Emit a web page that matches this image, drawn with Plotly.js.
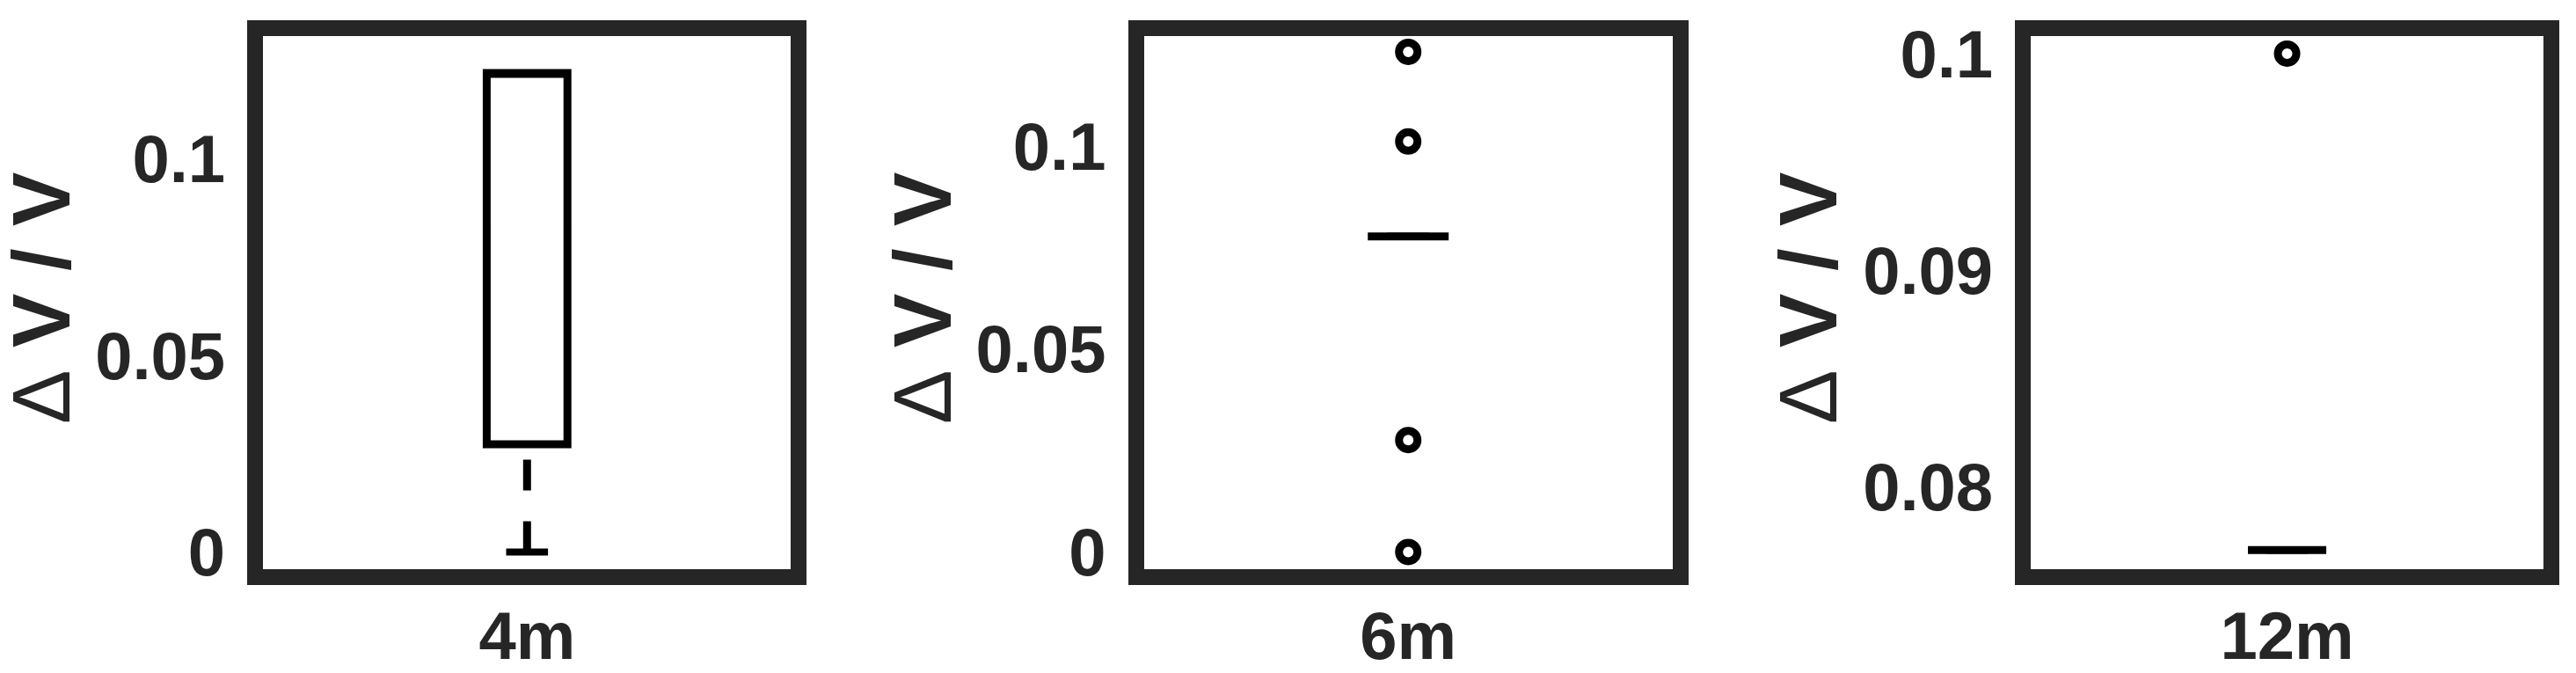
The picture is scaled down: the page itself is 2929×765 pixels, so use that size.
<!DOCTYPE html>
<html>
<head>
<meta charset="utf-8">
<script src="https://cdn.plot.ly/plotly-3.0.1.min.js"></script>
<style>
  html, body { margin: 0; padding: 0; background: #fff; }
  #chart { width: 2929px; height: 765px; }
</style>
</head>
<body>
<div id="chart"></div>
<script>
// groups (one box per panel)
const groups = ['4m', '6m', '12m'];

// box statistics
const q1Vals = [0.0274, 0.0778, 0.0771];
const medianVals = [0.1219, 0.0778, 0.0771];
const q3Vals = [0.1219, 0.0778, 0.0771];
const lowerWhisker = [0, 0.0778, 0.0771];
const upperWhisker = [0.1219, 0.0778, 0.0771];

// outliers for each group
const outliers = [
  [],
  [0.1233, 0.1012, 0.0276, 0],
  [0.1]
];

// y tick values per panel
const yTicks = [
  [0, 0.05, 0.1],
  [0, 0.05, 0.1],
  [0.08, 0.09, 0.1]
];

const yTitle = '<span style="font-weight:normal">\u0394</span> V / V';

const axisColor = '#262626';
const fontFam = '"Liberation Sans", Arial, sans-serif';

const xDomains = [[0.10219, 0.30703], [0.44408, 0.64927], [0.78843, 0.98727]];
const yDomain = [0.15386, 0.94641];
const yRanges = [[-0.00446, 0.13133], [-0.00432, 0.1272], [0.07620, 0.10081]];
const titleX = [0.01605, 0.35814, 0.70195];

let traces = [];
let layout = {
  width: 2929,
  height: 765,
  margin: {l: 0, r: 0, t: 0, b: 0},
  paper_bgcolor: '#fff',
  plot_bgcolor: '#fff',
  showlegend: false,
  font: {family: fontFam, size: 76, color: axisColor, weight: 'bold'},
  annotations: []
};

for (let i = 0; i < groups.length; i++) {
  let xa = i === 0 ? 'x' : 'x' + (i + 1);
  let ya = i === 0 ? 'y' : 'y' + (i + 1);

  // box + median
  traces.push({
    type: 'box',
    x: [groups[i]],
    q1: [q1Vals[i]],
    median: [medianVals[i]],
    q3: [q3Vals[i]],
    lowerfence: [q1Vals[i]],
    upperfence: [q3Vals[i]],
    width: 0.153,
    whiskerwidth: 0,
    boxpoints: false,
    fillcolor: 'rgba(0,0,0,0)',
    line: {color: '#000', width: 9},
    hoverinfo: 'skip',
    xaxis: xa, yaxis: ya
  });

  // dashed whiskers
  traces.push({
    type: 'scatter', mode: 'lines',
    x: [groups[i], groups[i]],
    y: [lowerWhisker[i], q1Vals[i]],
    line: {color: '#000', width: 9, dash: '35px,35px'},
    hoverinfo: 'skip',
    xaxis: xa, yaxis: ya
  });
  traces.push({
    type: 'scatter', mode: 'lines',
    x: [groups[i], groups[i]],
    y: [upperWhisker[i], q3Vals[i]],
    line: {color: '#000', width: 9, dash: '35px,35px'},
    hoverinfo: 'skip',
    xaxis: xa, yaxis: ya
  });

  // whisker caps
  traces.push({
    type: 'scatter', mode: 'markers',
    x: [groups[i], groups[i]],
    y: [lowerWhisker[i], upperWhisker[i]],
    marker: {symbol: 'line-ew', size: 34, color: '#000', line: {color: '#000', width: 8}},
    hoverinfo: 'skip',
    xaxis: xa, yaxis: ya
  });

  // outliers
  traces.push({
    type: 'scatter', mode: 'markers',
    x: outliers[i].map(() => groups[i]),
    y: outliers[i],
    marker: {symbol: 'circle-open', size: 21, color: '#000', line: {color: '#000', width: 9}},
    hoverinfo: 'skip',
    xaxis: xa, yaxis: ya
  });

  let xKey = i === 0 ? 'xaxis' : 'xaxis' + (i + 1);
  let yKey = i === 0 ? 'yaxis' : 'yaxis' + (i + 1);

  layout[xKey] = {
    domain: xDomains[i],
    anchor: ya,
    type: 'category',
    range: [-0.5, 0.5],
    showgrid: false,
    zeroline: false,
    showline: true,
    mirror: true,
    linecolor: axisColor,
    linewidth: 18,
    ticks: '',
    ticklabelstandoff: -7,
    tickfont: {family: fontFam, size: 76, color: axisColor, weight: 'bold'},
    fixedrange: true
  };
  layout[yKey] = {
    domain: yDomain,
    anchor: xa,
    range: yRanges[i],
    tickvals: yTicks[i],
    showgrid: false,
    zeroline: false,
    showline: true,
    mirror: true,
    linecolor: axisColor,
    linewidth: 18,
    ticks: '',
    ticklabelstandoff: 10,
    tickfont: {family: fontFam, size: 76, color: axisColor, weight: 'bold'},
    fixedrange: true
  };

  layout.annotations.push({
    text: yTitle,
    xref: 'paper', yref: 'paper',
    x: titleX[i], y: 0.5569,
    xanchor: 'center', yanchor: 'middle',
    textangle: -90,
    showarrow: false,
    font: {family: fontFam, size: 92, color: axisColor, weight: 'bold'}
  });
}

Plotly.newPlot('chart', traces, layout, {displayModeBar: false});
</script>
</body>
</html>
